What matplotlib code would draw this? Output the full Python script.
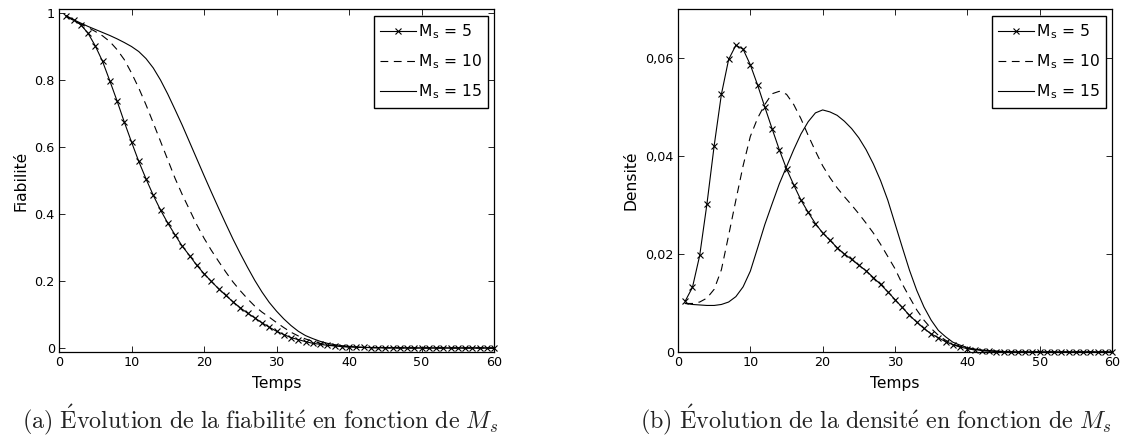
import matplotlib
matplotlib.use('Agg')
import matplotlib.pyplot as plt

plt.rcParams['font.family'] = ['DejaVu Sans']
plt.rcParams['mathtext.fontset'] = 'cm'

# ---------------- donnees ----------------
temps = list(range(1, 61))

fiab_ms5 = [0.992, 0.980, 0.965, 0.940, 0.902, 0.856, 0.798, 0.738, 0.675, 0.615,
            0.557, 0.505, 0.456, 0.412, 0.373, 0.338, 0.304, 0.276, 0.247, 0.222,
            0.199, 0.177, 0.157, 0.138, 0.120, 0.104, 0.090, 0.075, 0.062, 0.050,
            0.040, 0.031, 0.025, 0.019, 0.014, 0.011, 0.008, 0.006, 0.004, 0.003,
            0.002, 0.0015, 0.001, 0.0007, 0.0005, 0.0003, 0.0002, 0.0001, 0.0001, 0,
            0, 0, 0, 0, 0, 0, 0, 0, 0, 0]
fiab_ms10 = [0.990, 0.978, 0.967, 0.957, 0.945, 0.932, 0.915, 0.891, 0.861, 0.821,
             0.776, 0.726, 0.672, 0.617, 0.562, 0.507, 0.458, 0.413, 0.368, 0.328,
             0.292, 0.259, 0.227, 0.197, 0.171, 0.147, 0.125, 0.107, 0.092, 0.076,
             0.061, 0.047, 0.036, 0.027, 0.020, 0.014, 0.010, 0.007, 0.005, 0.003,
             0.002, 0.0015, 0.001, 0.0007, 0.0005, 0.0003, 0.0002, 0.0001, 0, 0,
             0, 0, 0, 0, 0, 0, 0, 0, 0, 0]
fiab_ms15 = [0.990, 0.980, 0.970, 0.960, 0.951, 0.942, 0.933, 0.923, 0.912, 0.900,
             0.885, 0.864, 0.836, 0.800, 0.758, 0.712, 0.665, 0.615, 0.565, 0.515,
             0.466, 0.418, 0.371, 0.325, 0.282, 0.241, 0.202, 0.167, 0.136, 0.110,
             0.087, 0.067, 0.050, 0.037, 0.028, 0.020, 0.014, 0.010, 0.007, 0.005,
             0.003, 0.002, 0.0015, 0.001, 0.0007, 0.0005, 0.0003, 0.0002, 0.0001, 0,
             0, 0, 0, 0, 0, 0, 0, 0, 0, 0]

dens_ms5 = [0.0104, 0.0132, 0.0197, 0.0302, 0.0421, 0.0526, 0.0597, 0.0626, 0.0618, 0.0586,
            0.0545, 0.0500, 0.0456, 0.0413, 0.0374, 0.0341, 0.0310, 0.0285, 0.0262, 0.0243,
            0.0228, 0.0213, 0.0200, 0.0189, 0.0177, 0.0166, 0.0152, 0.0138, 0.0123, 0.0107,
            0.0091, 0.0075, 0.0061, 0.0048, 0.0037, 0.0029, 0.0021, 0.0015, 0.0010, 0.0007,
            0.0005, 0.0003, 0.0002, 0.0001, 0.0001, 0, 0, 0, 0, 0,
            0, 0, 0, 0, 0, 0, 0, 0, 0, 0]
dens_ms10 = [0.0099, 0.0099, 0.0102, 0.0110, 0.0128, 0.0168, 0.0238, 0.0310, 0.0380, 0.0440,
             0.0477, 0.0505, 0.0527, 0.0532, 0.0526, 0.0505, 0.0476, 0.0442, 0.0410, 0.0380,
             0.0356, 0.0335, 0.0317, 0.0300, 0.0282, 0.0263, 0.0243, 0.0220, 0.0195, 0.0170,
             0.0139, 0.0112, 0.0086, 0.0065, 0.0048, 0.0034, 0.0024, 0.0016, 0.0011, 0.0007,
             0.0004, 0.0003, 0.0002, 0.0001, 0, 0, 0, 0, 0, 0,
             0, 0, 0, 0, 0, 0, 0, 0, 0, 0]
dens_ms15 = [0.0099, 0.0097, 0.0096, 0.0095, 0.0095, 0.0097, 0.0102, 0.0113, 0.0133, 0.0165,
             0.0212, 0.0260, 0.0302, 0.0343, 0.0378, 0.0413, 0.0445, 0.0470, 0.0488, 0.0494,
             0.0490, 0.0483, 0.0471, 0.0456, 0.0437, 0.0413, 0.0384, 0.0350, 0.0310, 0.0262,
             0.0214, 0.0167, 0.0126, 0.0092, 0.0065, 0.0044, 0.0031, 0.0020, 0.0014, 0.0009,
             0.0006, 0.0004, 0.0003, 0.0002, 0.0001, 0, 0, 0, 0, 0,
             0, 0, 0, 0, 0, 0, 0, 0, 0, 0]

labels = ['M$_\\mathregular{s}$ = 5', 'M$_\\mathregular{s}$ = 10', 'M$_\\mathregular{s}$ = 15']
xticks = [0, 10, 20, 30, 40, 50, 60]
yticks_fiab = [0, 0.2, 0.4, 0.6, 0.8, 1]
yticklabels_fiab = ['0', '0.2', '0.4', '0.6', '0.8', '1']
yticks_dens = [0, 0.02, 0.04, 0.06]
yticklabels_dens = ['0', '0,02', '0,04', '0,06']
# texte des sous-legendes (mathtext pour garder la police Computer Modern)
legendes = [r'$\mathrm{(a)\ \acute{E}volution\ de\ la\ fiabilit\acute{e}\ en\ fonction\ de\ }M_s$',
            r'$\mathrm{(b)\ \acute{E}volution\ de\ la\ densit\acute{e}\ en\ fonction\ de\ }M_s$']

# ---------------- parametres ----------------
lw = 0.8
tick_fs = 9.2
label_fs = 11.2
cap_fs = 17.3
W, H = 1121, 441

fig = plt.figure(figsize=(W / 100, H / 100), dpi=100)
ax1 = fig.add_axes([59 / W, 1 - 352 / H, 435 / W, 343 / H])
ax2 = fig.add_axes([678 / W, 1 - 352 / H, 434 / W, 343 / H])


def trace(ax, y5, y10, y15):
    ax.plot(temps, y5, '-', color='black', lw=lw, marker='x', markersize=4.5,
            markeredgewidth=0.8, label=labels[0], clip_on=False, zorder=3)
    ax.plot(temps, y10, '--', color='black', lw=lw, dashes=(7, 5), label=labels[1])
    ax.plot(temps, y15, '-', color='black', lw=lw, label=labels[2])
    ax.set_xlim(0, 60)
    ax.set_xticks(xticks)
    ax.tick_params(direction='in', top=True, right=True, length=4, width=0.6,
                   labelsize=tick_fs, pad=3)
    for s in ax.spines.values():
        s.set_linewidth(0.9)
    ax.set_xlabel('Temps', fontsize=label_fs)
    ax.xaxis.set_label_coords(0.5, -0.07)
    leg = ax.legend(loc='upper right', bbox_to_anchor=(0.986, 0.98), borderaxespad=0,
                    fontsize=label_fs, frameon=True, fancybox=False, framealpha=1,
                    edgecolor='black', handlelength=2.3, handletextpad=0.1,
                    labelspacing=0.75, borderpad=0.4)
    leg.get_frame().set_linewidth(1.0)


trace(ax1, fiab_ms5, fiab_ms10, fiab_ms15)
ax1.set_ylim(-0.012, 1.012)
ax1.set_yticks(yticks_fiab)
ax1.set_yticklabels(yticklabels_fiab)
ax1.set_ylabel('Fiabilité', fontsize=label_fs)
ax1.yaxis.set_label_coords(-0.07, 0.5)

trace(ax2, dens_ms5, dens_ms10, dens_ms15)
ax2.set_ylim(0, 0.07)
ax2.set_yticks(yticks_dens)
ax2.set_yticklabels(yticklabels_dens)
ax2.set_ylabel('Densité', fontsize=label_fs)
ax2.yaxis.set_label_coords(-0.09, 0.5)

# legendes des sous-figures
fig.text(22 / W, 1 - 428 / H, legendes[0], fontsize=cap_fs,
         ha='left', va='baseline', color='#222222')
fig.text(640 / W, 1 - 428 / H, legendes[1], fontsize=cap_fs,
         ha='left', va='baseline', color='#222222')

fig.savefig('out.png', dpi=100)
